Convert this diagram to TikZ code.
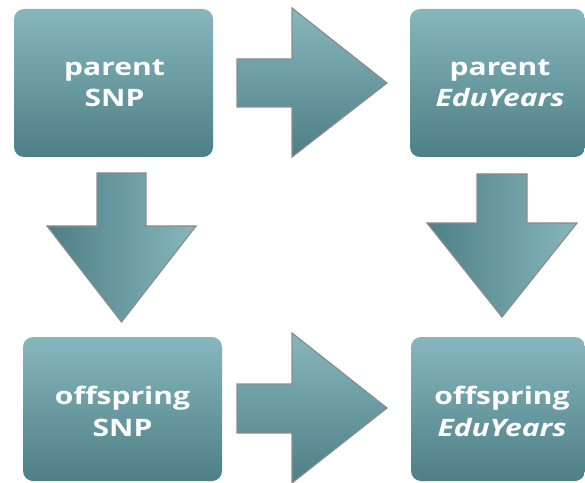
\documentclass[tikz,border=0pt]{standalone}
\usepackage{fontspec}
\setmainfont{Open Sans}[FakeStretch=1.25]
\definecolor{tealtop}{HTML}{87B7BD}
\definecolor{tealbot}{HTML}{4D7F86}
\definecolor{rim}{HTML}{8C8C8C}
\tikzset{
  box/.style={rounded corners=10pt, inner sep=0pt, top color=tealtop, bottom color=tealbot, draw=none},
  lbl/.style={inner sep=0pt, anchor=base, text=white, font=\fontsize{24}{31}\selectfont\bfseries},
  harrow/.style={draw=rim, line width=1.2pt, line join=miter, top color=tealtop, bottom color=tealbot},
  varrow/.style={draw=rim, line width=1.2pt, line join=miter, left color=tealbot, right color=tealtop},
}
\begin{document}
\begin{tikzpicture}[x=1pt,y=1pt]
\useasboundingbox (0,0) rectangle (585,482);
\node[box, minimum width=199pt, minimum height=148pt] (ps) at (113.5,399) {};
\node[box, minimum width=175pt, minimum height=148pt] (pe) at (497.5,399) {};
\node[box, minimum width=199pt, minimum height=144pt] (os) at (122.5,73) {};
\node[box, minimum width=174pt, minimum height=144pt] (oe) at (498,73) {};
\node[lbl] (ps1) at (114.5,406) {parent};
\node[lbl] (ps2) at (114.5,375) {SNP};
\node[lbl] (pe1) at (500,406) {parent};
\node[lbl] (pe2) at (500,375) {\textit{EduYears}};
\node[lbl] (os1) at (122.5,78) {offspring};
\node[lbl] (os2) at (122.5,46) {SNP};
\node[lbl] (oe1) at (502,78) {offspring};
\node[lbl] (oe2) at (502,46) {\textit{EduYears}};
% right arrows
\path[harrow] (237,423)--(292,423)--(292,474)--(387,399)--(292,325)--(292,375)--(237,375)--cycle;
\path[harrow] (237,98)--(292,98)--(292,149)--(387,74)--(292,-1)--(292,49)--(237,49)--cycle;
% down arrows
\path[varrow] (97,309)--(146,309)--(146,256)--(196,256)--(121.5,160)--(47,256)--(97,256)--cycle;
\path[varrow] (477,308)--(527,308)--(527,259)--(577,259)--(502,165)--(427,259)--(477,259)--cycle;
\end{tikzpicture}
\end{document}
